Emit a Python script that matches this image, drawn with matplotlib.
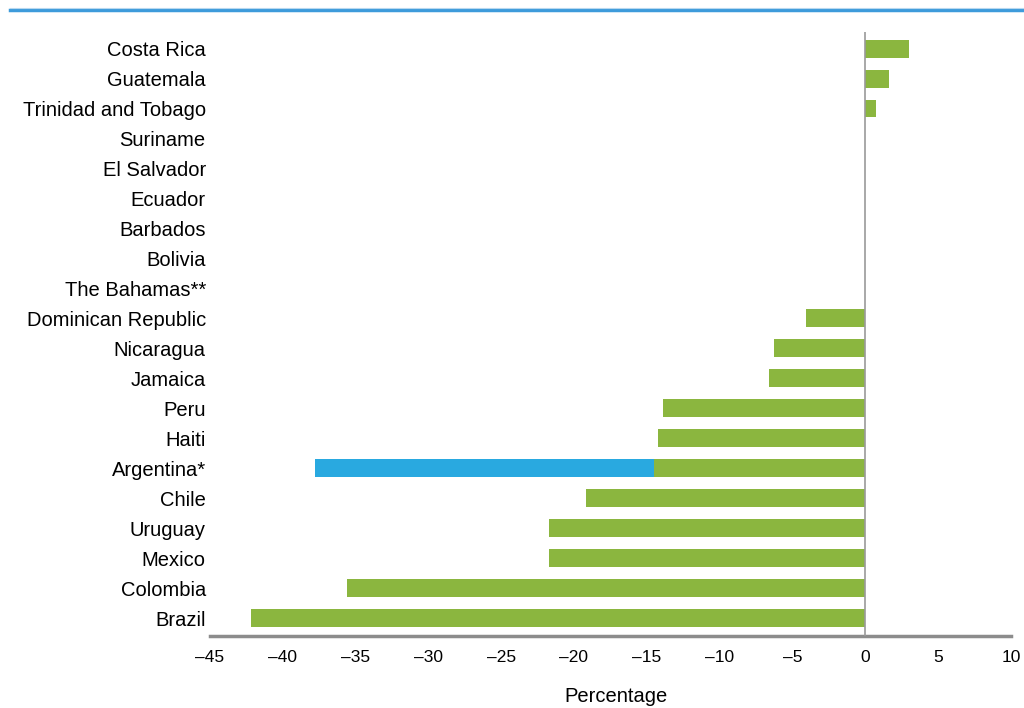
import matplotlib
matplotlib.use("Agg")
import matplotlib.pyplot as plt
from matplotlib.lines import Line2D

plt.rcParams['font.family'] = ['Liberation Sans', 'DejaVu Sans']
plt.rcParams['axes.unicode_minus'] = False

countries = ["Costa Rica", "Guatemala", "Trinidad and Tobago", "Suriname", "El Salvador",
             "Ecuador", "Barbados", "Bolivia", "The Bahamas**", "Dominican Republic",
             "Nicaragua", "Jamaica", "Peru", "Haiti", "Argentina*", "Chile", "Uruguay",
             "Mexico", "Colombia", "Brazil"]
values = [3.0, 1.65, 0.75, 0, 0, 0, 0, 0, 0, -4.1, -6.3, -6.6, -13.9, -14.2, -14.5,
          -19.2, -21.7, -21.7, -35.6, -42.2]
argentina_alt = -37.8
xticks = [-45, -40, -35, -30, -25, -20, -15, -10, -5, 0, 5, 10]

green = "#8bb63f"
blue = "#29a9e0"

fig = plt.figure(figsize=(10.24, 7.08), dpi=100)
ax = fig.add_axes([0.205, 0.1017, 0.7822, 0.853])

n = len(countries)
ypos = [n - 1 - i for i in range(n)]
arg_idx = countries.index("Argentina*")
ax.barh(ypos[arg_idx], argentina_alt, height=0.6, color=blue, zorder=2)
ax.barh(ypos, values, height=0.6, color=green, zorder=3)

ax.set_xlim(-45, 10)
ax.set_ylim(-0.6, n - 0.45)
ax.set_yticks(ypos)
ax.set_yticklabels(countries, fontsize=14.5)
ax.set_xticks(xticks)
ax.set_xticklabels([("\u2013" + str(-t)) if t < 0 else str(t) for t in xticks], fontsize=12.5)
ax.tick_params(axis='both', length=0)
ax.tick_params(axis='x', pad=10)
ax.tick_params(axis='y', pad=3)
for s in ["top", "right", "left"]:
    ax.spines[s].set_visible(False)
ax.spines["bottom"].set_color("#8c8c8c")
ax.spines["bottom"].set_linewidth(2.5)
ax.axvline(0, color="#9a9a9a", lw=1.2, zorder=4)
ax.set_xlabel("Percentage", fontsize=14.5)
ax.xaxis.set_label_coords(0.507, -0.085)

fig.add_artist(Line2D([0.01, 1.0], [1 - 10 / 708, 1 - 10 / 708], color="#3d9bdb", lw=2.5,
                      transform=fig.transFigure))
fig.add_artist(Line2D([0.01, 1.0], [1 - 8 / 708, 1 - 8 / 708], color="#b8d8ef", lw=0.8,
                      transform=fig.transFigure))

fig.savefig("out.png", dpi=100)
